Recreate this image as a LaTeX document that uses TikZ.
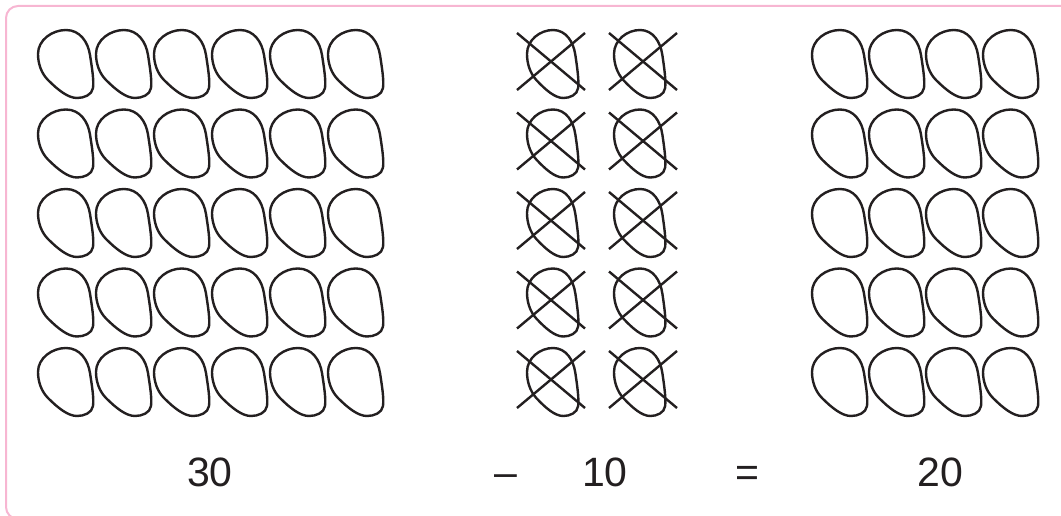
\documentclass[tikz,border=0pt]{standalone}
\usepackage{fontspec}
\setmainfont{Liberation Sans}
\definecolor{ink}{HTML}{231F20}
\definecolor{framepink}{HTML}{F7B6D2}
\begin{document}
\begin{tikzpicture}[x=1pt,y=-1pt]
\tikzset{
  eggline/.style={draw=ink,line width=2.4pt,line join=round},
  crossline/.style={draw=ink,line width=2.4pt},
  numtext/.style={text=ink,font=\fontsize{41}{41}\selectfont,inner sep=0pt,anchor=base},
  egg/.pic={\draw[eggline] (28,0) .. controls (42,0) and (50,12) .. (52,25)
     .. controls (54,38) and (56,50) .. (55,58)
     .. controls (54,65) and (46,68) .. (39,68)
     .. controls (30,68) and (20,60) .. (10,50)
     .. controls (3,43) and (0,33) .. (0,24)
     .. controls (0,10) and (14,0) .. (28,0) -- cycle;}
}
\useasboundingbox (0,0) rectangle (1061,516);
\clip (0,0) rectangle (1061,516);
\draw[framepink,line width=2pt,rounded corners=12pt] (6,6) rectangle (1090,519);
\foreach \r in {0,...,4}{
  \foreach \c in {0,...,5}{
    \pic at ({38+58*\c},{30+79.5*\r}) {egg};
  }
  \foreach \c in {0,...,3}{
    \pic at ({812+57*\c},{30+79.5*\r}) {egg};
  }
  \foreach \c/\ex/\cx in {0/527/551,1/614/643}{
    \pic[xscale=0.93] at (\ex,{30+79.5*\r}) {egg};
    \draw[crossline] ({\cx-34},{33+79.5*\r}) -- ({\cx+34},{90+79.5*\r});
    \draw[crossline] ({\cx-34},{90+79.5*\r}) -- ({\cx+34},{33+79.5*\r});
  }
}
\node[numtext] (n30) at (210,486) {30};
\node[numtext] (minus) at (506,486) {\textendash};
\node[numtext] (n10) at (605,486) {10};
\node[numtext] (eq) at (747,486) {=};
\node[numtext] (n20) at (940,486) {20};
\end{tikzpicture}
\end{document}
